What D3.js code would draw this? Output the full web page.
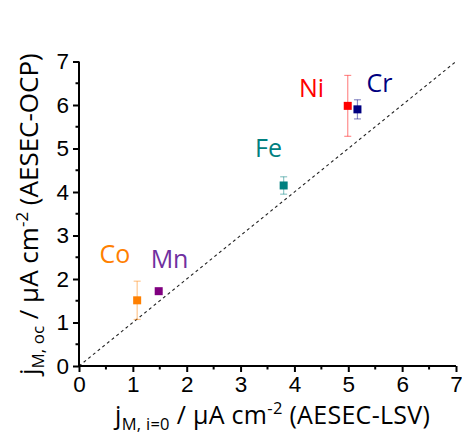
<!DOCTYPE html>
<html>
<head>
<meta charset="utf-8">
<script src="https://cdn.jsdelivr.net/npm/d3@7"></script>
<style>
  html, body { margin: 0; padding: 0; background: #fff; }
  svg { display: block; }
</style>
</head>
<body>
<script>
// Metal dissolution rates: open circuit (AESEC-OCP) vs zero-current extrapolation (AESEC-LSV)
const elements = ["Co", "Mn", "Fe", "Ni", "Cr"];
const jLSV = [1.08, 1.48, 3.80, 4.99, 5.17];
const jOCP = [1.51, 1.72, 4.15, 5.98, 5.90];
const jOCPerr = [0.44, 0.03, 0.20, 0.70, 0.22];
const markerColors = ["#ff8000", "#800080", "#008080", "#ff0000", "#000080"];
const labelColors = ["#ff8000", "#7030a0", "#008080", "#ff0000", "#000080"];
// label anchors in data units (left edge, baseline)
const labelX = [0.38, 1.33, 3.27, 4.085, 5.34];
const labelY = [2.37, 2.26, 4.80, 6.19, 6.29];
const xTicks = [0, 1, 2, 3, 4, 5, 6, 7];
const yTicks = [0, 1, 2, 3, 4, 5, 6, 7];

const W = 462, H = 434;
const svg = d3.select("body").append("svg").attr("width", W).attr("height", H);

const x = d3.scaleLinear().domain([0, 7]).range([79, 456]);
const y = d3.scaleLinear().domain([0, 7]).range([366, 61.5]);

const tickFont = "'Liberation Sans', Arial, sans-serif";
const titleFont = "'Open Sans', sans-serif";

// 1:1 reference line
svg.append("line")
  .attr("x1", x(0)).attr("y1", y(0))
  .attr("x2", x(7)).attr("y2", y(7))
  .attr("stroke", "#222").attr("stroke-width", 1.1)
  .attr("stroke-dasharray", "3,3");

// axes
const minor = d3.range(0.5, 7, 1);
const xAxis = svg.append("g").attr("transform", `translate(0,${y(0)})`);
xAxis.call(d3.axisBottom(x).tickValues(xTicks).tickFormat(d3.format("d")).tickSize(6).tickPadding(4));
const yAxis = svg.append("g").attr("transform", `translate(${x(0)},0)`);
yAxis.call(d3.axisLeft(y).tickValues(yTicks).tickFormat(d3.format("d")).tickSize(6).tickPadding(4));

[xAxis, yAxis].forEach(g => {
  g.select(".domain").attr("stroke", "#000").attr("stroke-width", 2);
  g.selectAll(".tick line").attr("stroke", "#000").attr("stroke-width", 2);
  g.selectAll(".tick text").attr("fill", "#000")
    .style("font-family", tickFont).style("font-size", "22.5px");
});
xAxis.select(".domain").attr("d", `M${x(0)},0H${x(7)}`);
yAxis.select(".domain").attr("d", `M0,${y(0)}V${y(7)}`);

// minor ticks
xAxis.selectAll(".minor").data(minor).enter().append("line")
  .attr("x1", d => x(d)).attr("x2", d => x(d))
  .attr("y1", 0).attr("y2", 3.5)
  .attr("stroke", "#000").attr("stroke-width", 2);
yAxis.selectAll(".minor").data(minor).enter().append("line")
  .attr("y1", d => y(d)).attr("y2", d => y(d))
  .attr("x1", 0).attr("x2", -3.5)
  .attr("stroke", "#000").attr("stroke-width", 2);

// error bars
const idx = d3.range(elements.length);
const eb = svg.append("g").selectAll("g").data(idx).enter().append("g")
  .attr("stroke", i => markerColors[i]).attr("stroke-opacity", 0.45).attr("stroke-width", 1.2);
eb.append("line")
  .attr("x1", i => x(jLSV[i])).attr("x2", i => x(jLSV[i]))
  .attr("y1", i => y(jOCP[i] - jOCPerr[i])).attr("y2", i => y(jOCP[i] + jOCPerr[i]));
eb.append("line")
  .attr("x1", i => x(jLSV[i]) - 3.5).attr("x2", i => x(jLSV[i]) + 3.5)
  .attr("y1", i => y(jOCP[i] + jOCPerr[i])).attr("y2", i => y(jOCP[i] + jOCPerr[i]));
eb.append("line")
  .attr("x1", i => x(jLSV[i]) - 3.5).attr("x2", i => x(jLSV[i]) + 3.5)
  .attr("y1", i => y(jOCP[i] - jOCPerr[i])).attr("y2", i => y(jOCP[i] - jOCPerr[i]));

// markers
const s = 8;
svg.append("g").selectAll("rect").data(idx).enter().append("rect")
  .attr("x", i => x(jLSV[i]) - s / 2).attr("y", i => y(jOCP[i]) - s / 2)
  .attr("width", s).attr("height", s)
  .attr("fill", i => markerColors[i]);

// element labels
svg.append("g").selectAll("text").data(idx).enter().append("text")
  .attr("x", i => x(labelX[i])).attr("y", i => y(labelY[i]))
  .attr("fill", i => labelColors[i])
  .style("font-family", titleFont).style("font-size", "25px")
  .text(i => elements[i]);

// x axis title
const xt = svg.append("text")
  .attr("x", 115).attr("y", 424)
  .style("font-family", titleFont).style("font-size", "25px")
  .style("letter-spacing", "0.3px").attr("fill", "#000");
xt.append("tspan").text("j");
xt.append("tspan").attr("dy", 6).style("font-size", "16.5px").text("M, i=0");
xt.append("tspan").attr("dy", -6).text(" / μA cm");
xt.append("tspan").attr("dy", -10).style("font-size", "16.5px").text("-2");
xt.append("tspan").attr("dy", 10).text(" (AESEC-LSV)");

// y axis title
const yt = svg.append("text")
  .attr("transform", "translate(38,375) rotate(-90)")
  .style("font-family", titleFont).style("font-size", "26px").attr("fill", "#000");
yt.append("tspan").text("j");
yt.append("tspan").attr("dy", 6).style("font-size", "17px").text("M, oc");
yt.append("tspan").attr("dy", -6).text(" / μA cm");
yt.append("tspan").attr("dy", -10).style("font-size", "17px").text("-2");
yt.append("tspan").attr("dy", 10).text(" (AESEC-OCP)");
</script>
</body>
</html>
